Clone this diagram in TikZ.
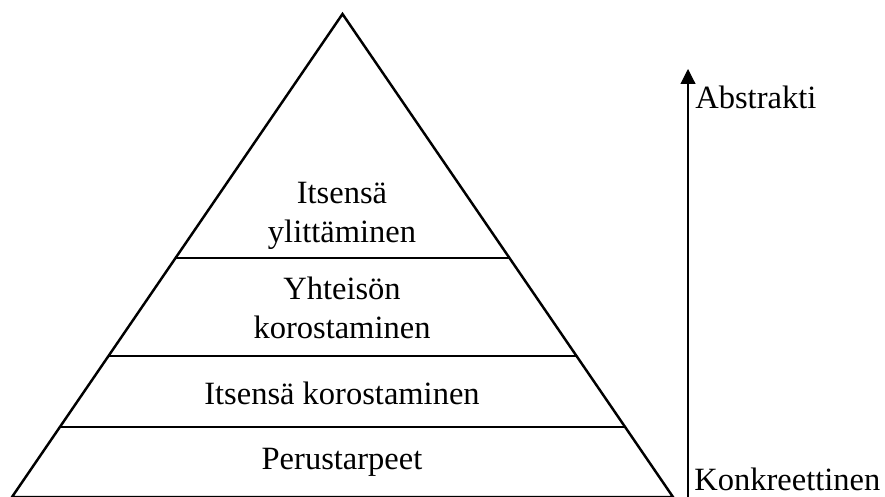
\documentclass[tikz,border=0pt]{standalone}
\usepackage{fontspec}
\setmainfont{Liberation Serif}
\usepackage{tikz}
\usetikzlibrary{arrows.meta,calc,positioning}

\begin{document}
\begin{tikzpicture}[every node/.style={font=\fontsize{18.5}{22.5}\selectfont},
  taso/.style={line width=0.75pt},
  teksti/.style={align=center,inner sep=0pt}]
\useasboundingbox (0,0) rectangle (17.7,9.94);
% pyramidin kulmat
\coordinate (L) at (0.24,0);
\coordinate (R) at (13.46,0);
\coordinate (A) at (6.85,9.66);
\draw[line width=1.4pt,line join=miter] (L) -- (A) -- (R) -- cycle;
\foreach \h/\n in {4.78/t3, 2.82/t2, 1.40/t1}{
  \draw[taso] ($(L)!\h/9.66!(A)$) coordinate (\n l) -- ($(R)!\h/9.66!(A)$) coordinate (\n r);
}
\node[teksti] (ylitt) at (6.84,5.62) {Itsensä\\ylittäminen};
\node[teksti] (yhteis) at (6.84,3.78) {Yhteisön\\korostaminen};
\node[teksti] (korost) at (6.84,2.08) {Itsensä korostaminen};
\node[teksti] (perus) at (6.84,0.70) {Perustarpeet};
% abstraktiuden nuoli
\coordinate (ala) at (13.76,0);
\coordinate (yla) at (13.76,8.56);
\draw[line width=0.6pt,-{Triangle[length=0.3cm,width=0.3cm]}] (ala) -- (yla);
\node[anchor=base west,inner sep=0pt] (abs) at (13.9,7.76) {Abstrakti};
\node[anchor=base west,inner sep=0pt] (konk) at (13.88,0.12) {Konkreettinen};
\end{tikzpicture}
\end{document}
